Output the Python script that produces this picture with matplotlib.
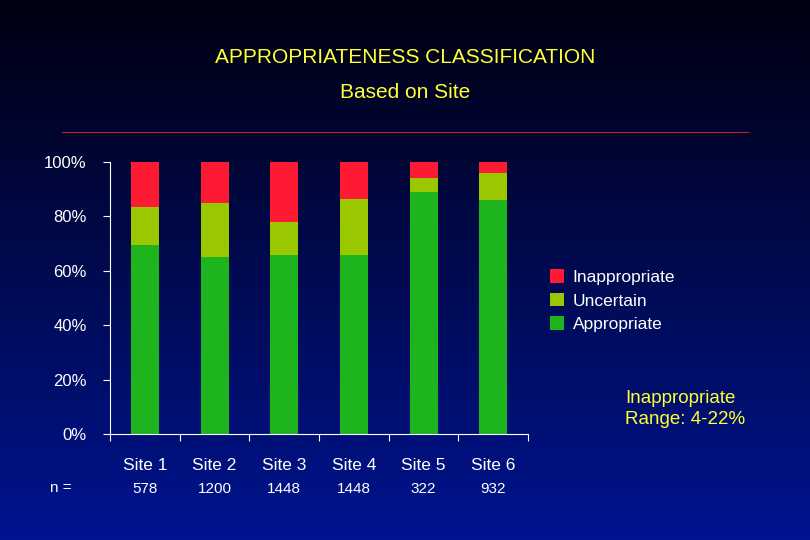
import matplotlib
matplotlib.use("Agg")
import matplotlib.pyplot as plt
import numpy as np
from matplotlib.colors import LinearSegmentedColormap

plt.rcParams['font.family'] = ['Liberation Sans', 'DejaVu Sans']

sites = ["Site 1", "Site 2", "Site 3", "Site 4", "Site 5", "Site 6"]
n_values = ["578", "1200", "1448", "1448", "322", "932"]
appropriate = [69.5, 65, 66, 66, 89, 86]
uncertain = [14, 20, 12, 20.5, 5, 10]
inappropriate = [16.5, 15, 22, 13.5, 6, 4]

fig = plt.figure(figsize=(8.1, 5.4), dpi=100)
bg = fig.add_axes([0, 0, 1, 1], zorder=-10)
grad = np.linspace(0, 1, 256)[:, None]
cmap = LinearSegmentedColormap.from_list("bg", ["#000010", "#000a50", "#001490"])
bg.imshow(grad, aspect="auto", cmap=cmap, extent=[0, 1, 0, 1], origin="upper")
bg.axis("off")

fig.text(0.5, 0.893, "APPROPRIATENESS CLASSIFICATION", color="#ffff33", ha="center", va="center", fontsize=15)
fig.text(0.5, 0.828, "Based on Site", color="#ffff33", ha="center", va="center", fontsize=15)
bg.plot([0.077, 0.923], [0.755, 0.755], color="#cc2020", lw=0.8)

ax = fig.add_axes([0.136, 0.196, 0.516, 0.504])
ax.set_facecolor("none")
x = np.arange(len(sites))
w = 0.4
ax.bar(x, appropriate, w, color="#1eb41e", label="Appropriate")
ax.bar(x, uncertain, w, bottom=appropriate, color="#99c800", label="Uncertain")
bot2 = np.array(appropriate) + np.array(uncertain)
ax.bar(x, inappropriate, w, bottom=bot2, color="#ff1a33", label="Inappropriate")
ax.set_xlim(-0.5, 5.5)
ax.set_ylim(0, 100)
ax.set_yticks(range(0, 101, 20))
ax.set_yticklabels([f"{v}%" for v in range(0, 101, 20)], color="white", fontsize=12)
ax.set_xticks(np.arange(-0.5, 6, 1))
ax.set_xticklabels([])
ax.tick_params(axis="x", colors="white", length=5, direction="out")
ax.tick_params(axis="y", colors="white", length=5, pad=12)
for s in ["top", "right"]:
    ax.spines[s].set_visible(False)
for s in ["left", "bottom"]:
    ax.spines[s].set_color("white")
for i, s in enumerate(sites):
    ax.text(i, -0.115, s, transform=ax.get_xaxis_transform(), color="white", ha="center", va="center", fontsize=12.5)
    ax.text(i, -0.2, n_values[i], transform=ax.get_xaxis_transform(), color="white", ha="center", va="center", fontsize=11)
fig.text(0.062, 0.096, "n =", color="white", fontsize=11, va="center")

h, l = ax.get_legend_handles_labels()
leg = fig.legend(h[::-1], l[::-1], loc="upper left", bbox_to_anchor=(0.66, 0.53),
                 frameon=False, fontsize=12.5, labelcolor="white", handlelength=0.8,
                 handleheight=0.8, labelspacing=0.45, handletextpad=0.5)
fig.text(0.772, 0.208, "Inappropriate\nRange: 4-22%", color="#ffff33", fontsize=13.5, va="bottom", linespacing=1.3)
fig.savefig("out.png", dpi=100)
